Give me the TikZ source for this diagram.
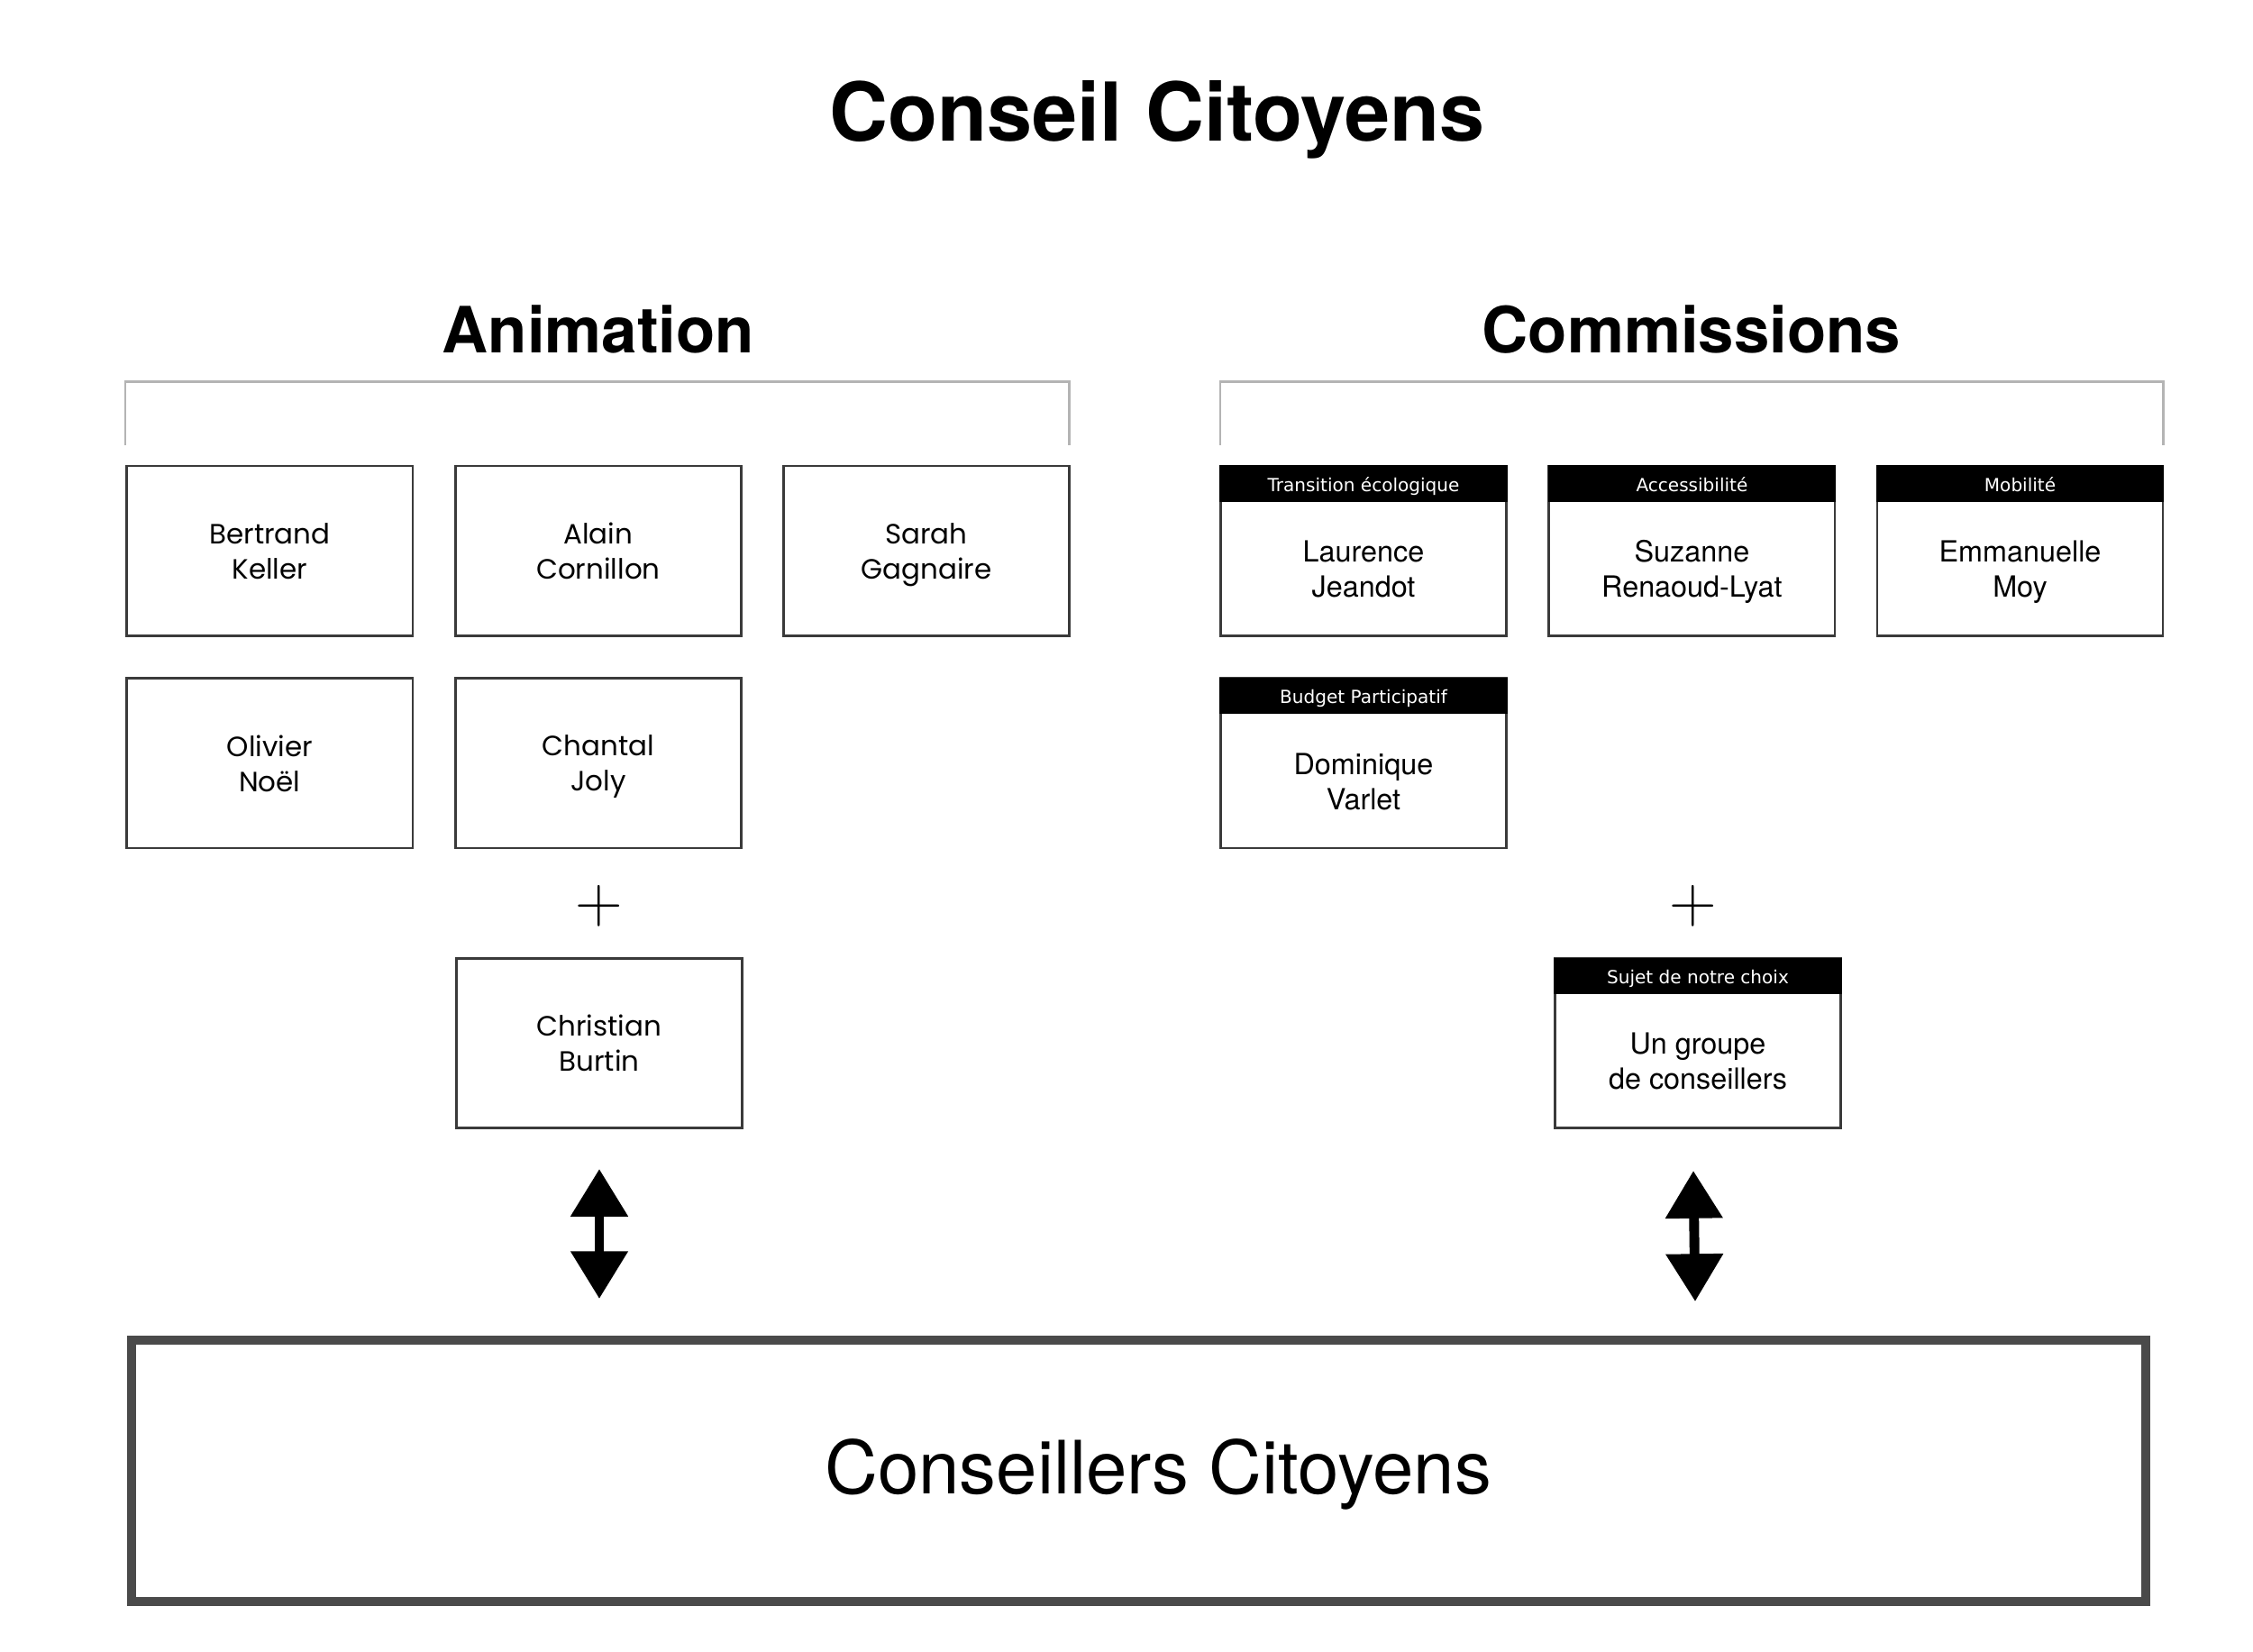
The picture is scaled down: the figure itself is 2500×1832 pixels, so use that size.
\documentclass[tikz,border=0pt]{standalone}
\usepackage{fontspec}
\setmainfont{TeX Gyre Heros}
\newfontfamily\poppins{Poppins}
\newfontfamily\dejavu{DejaVu Sans}
\usetikzlibrary{arrows.meta}
\definecolor{boxgray}{HTML}{3A3A3A}
\definecolor{brgray}{HTML}{B4B4B4}
\definecolor{bigray}{HTML}{4A4A4A}
\begin{document}
\begin{tikzpicture}[x=0.01cm,y=-0.01cm,
  box/.style={draw=boxgray, line width=0.77pt, minimum width=3.17cm, minimum height=1.885cm, inner sep=0pt},
  hdr/.style={fill=black, text=white, minimum width=3.19cm, minimum height=0.405cm, inner sep=0pt, anchor=north,
    text height=0.175cm, text depth=0pt, font=\dejavu\fontsize{5.7}{6.5}\selectfont},
  nameL/.style={align=center, text depth=0pt, font=\poppins\fontsize{8.8}{11.1}\selectfont},
  nameR/.style={align=center, text depth=0pt, font=\fontsize{9.2}{11.1}\selectfont},
  heading/.style={anchor=base, font=\bfseries\fontsize{20.15}{24}\selectfont},
  plussign/.style={font=\fontsize{19.5}{22}\selectfont},
  bracket/.style={draw=brgray, line width=0.6pt},
  dblarrow/.style={line width=3.1pt, {Triangle[width=17.4pt,length=15pt]}-{Triangle[width=17.4pt,length=15pt]}}
]
\useasboundingbox (0,0) rectangle (2500,1832);

% title and headings
\node[anchor=base, font=\bfseries\fontsize{25.6}{30}\selectfont] (title) at (1284,156.5) {Conseil Citoyens};
\node[heading] (anim) at (664,391.7) {Animation};
\node[heading] (comm) at (1877,391.7) {Commissions};

% brackets
\draw[bracket] (139,494) -- (139,423.5) -- (1186.5,423.5) -- (1186.5,494);
\draw[bracket] (1354,494) -- (1354,423.5) -- (2400.5,423.5) -- (2400.5,494);

% Animation boxes
\node[box, nameL] (bk) at (299.4,611.3) {Bertrand\\Keller};
\node[box, nameL] (ac) at (663.9,611.3) {Alain\\Cornillon};
\node[box, nameL] (sg) at (1028,611.3) {Sarah\\Gagnaire};
\node[box, nameL] (on) at (299.4,846.8) {Olivier\\Noël};
\node[box, nameL] (cj) at (663.9,846.8) {Chantal\\Joly};
\node[plussign] (plusL) at (665,1005) {$+$};
\node[box, nameL] (cb) at (665,1157.5) {Christian\\Burtin};

% Commissions boxes
\node[box] (lj) at (1513,611.3) {};
\node[hdr] (ljh) at (lj.north) {Transition écologique};
\node[nameR] (ljn) at ([yshift=-0.2cm]lj.center) {Laurence\\Jeandot};

\node[box] (sr) at (1877.4,611.3) {};
\node[hdr] (srh) at (sr.north) {Accessibilité};
\node[nameR] (srn) at ([yshift=-0.2cm]sr.center) {Suzanne\\Renaoud-Lyat};

\node[box] (em) at (2241.5,611.3) {};
\node[hdr] (emh) at (em.north) {Mobilité};
\node[nameR] (emn) at ([yshift=-0.2cm]em.center) {Emmanuelle\\Moy};

\node[box] (dv) at (1513,846.8) {};
\node[hdr] (dvh) at (dv.north) {Budget Participatif};
\node[nameR] (dvn) at ([yshift=-0.2cm]dv.center) {Dominique\\Varlet};

\node[plussign] (plusR) at (1879,1005) {$+$};

\node[box] (gc) at (1884,1157.5) {};
\node[hdr] (gch) at (gc.north) {Sujet de notre choix};
\node[nameR] (gcn) at ([yshift=-0.2cm]gc.center) {Un groupe\\de conseillers};

% bottom box
\node[draw=bigray, line width=2.85pt, minimum width=22.33cm, minimum height=2.9cm, inner sep=0pt] (cc) at (1263.5,1632) {};
\node[anchor=base, font=\fontsize{23.2}{27}\selectfont] (cct) at (1285,1657) {Conseillers Citoyens};

% arrows
\coordinate (aLt) at (665,1297);
\coordinate (aLb) at (665,1441);
\coordinate (aRt) at (1879,1299);
\coordinate (aRb) at (1881,1444);
\draw[dblarrow] (aLt) -- (aLb);
\draw[dblarrow] (aRt) -- (aRb);
\end{tikzpicture}
\end{document}
